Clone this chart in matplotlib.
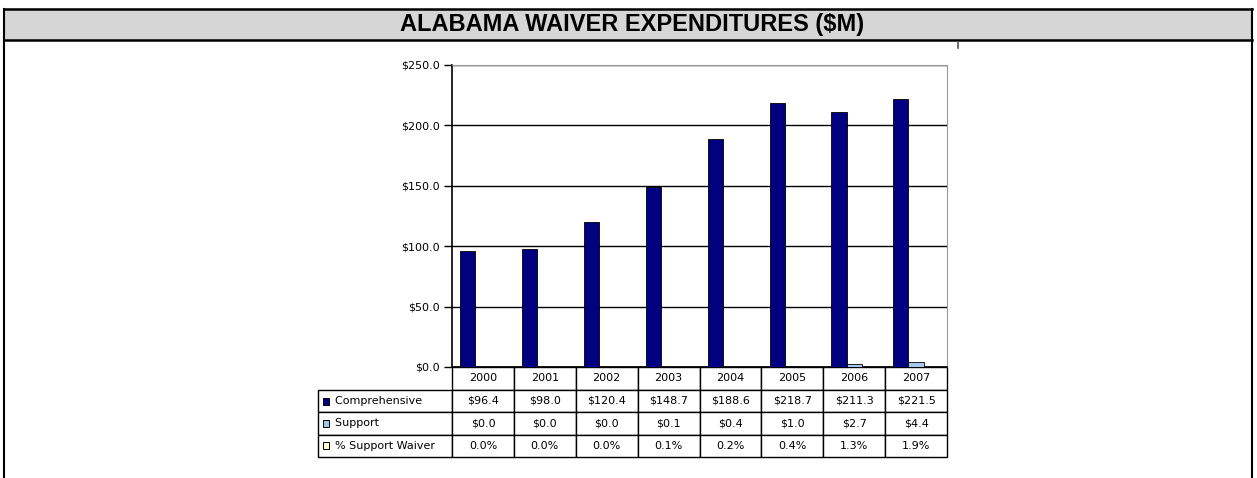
import matplotlib
matplotlib.use("Agg")
import matplotlib.pyplot as plt
from matplotlib.patches import Rectangle
from matplotlib.lines import Line2D
import numpy as np

plt.rcParams['font.family'] = ['DejaVu Sans']

# data
years = ['2000', '2001', '2002', '2003', '2004', '2005', '2006', '2007']
comprehensive = [96.4, 98.0, 120.4, 148.7, 188.6, 218.7, 211.3, 221.5]
support = [0.0, 0.0, 0.0, 0.1, 0.4, 1.0, 2.7, 4.4]
pct_support = [0.0, 0.0, 0.0, 0.1, 0.2, 0.4, 1.3, 1.9]
series_names = ['Comprehensive', 'Support', '% Support Waiver']
series_colors = ['#000080', '#A6C8EC', '#FFFFCC']
yticks = [0, 50, 100, 150, 200, 250]

W, H = 1257, 478
fig = plt.figure(figsize=(W / 100, H / 100), dpi=100)

# outer frame + title band
fig.add_artist(Rectangle((4 / W, 1 - 40 / H), 1248 / W, 31 / H, transform=fig.transFigure,
                         facecolor='#D6D6D6', edgecolor='none'))
for y in (9, 40):
    fig.add_artist(Line2D([4 / W, 1252 / W], [1 - y / H, 1 - y / H], color='black', lw=1.8))
for x in (4, 1252):
    fig.add_artist(Line2D([x / W, x / W], [1 - 9 / H, 0], color='black', lw=1.5))
fig.text(0.503, 1 - 25 / H, 'ALABAMA WAIVER EXPENDITURES ($M)', ha='center', va='center',
         fontsize=17, fontweight='bold', family='Liberation Sans')
fig.add_artist(Line2D([958 / W, 958 / W], [1 - 42 / H, 1 - 48 / H], color='#555555', lw=1.2))

# plot area
left, right, top, bottom = 452, 947, 65, 367
ax = fig.add_axes([left / W, 1 - bottom / H, (right - left) / W, (bottom - top) / H])

x = np.arange(len(years))
bw = 0.245
vals = [comprehensive, support, [p / 100 for p in pct_support]]
for i, (v, c) in enumerate(zip(vals, series_colors)):
    ax.bar(x + (i - 1) * bw, v, width=bw, color=c, edgecolor='black', linewidth=0.6, zorder=3)

ax.set_xlim(-0.5, len(years) - 0.5)
ax.set_ylim(0, 250)
ax.set_yticks(yticks)
ax.set_yticklabels(['$%.1f' % t for t in yticks], fontsize=8)
ax.set_xticks([])
ax.yaxis.grid(True, color='black', lw=1.0, zorder=0)
ax.tick_params(axis='y', length=6, width=1, pad=3)
ax.spines['left'].set_linewidth(1.2)
ax.spines['bottom'].set_linewidth(1.2)
ax.spines['top'].set_color('#999999')
ax.spines['right'].set_color('#999999')

# data table
t_left = (318 - left) / (right - left)
t_bottom = -(457 - bottom) / (bottom - top)
cell_text = [[''] + years,
             ['    ' + series_names[0]] + ['$%.1f' % v for v in comprehensive],
             ['    ' + series_names[1]] + ['$%.1f' % v for v in support],
             ['    ' + series_names[2]] + ['%.1f%%' % v for v in pct_support]]
first_w = (left - 318) / (right - 318)
col_w = [first_w] + [(1 - first_w) / len(years)] * len(years)
tbl = ax.table(cellText=cell_text, colWidths=col_w, cellLoc='center',
               bbox=[t_left, t_bottom, 1 - t_left, -t_bottom])
tbl.auto_set_font_size(False)
tbl.set_fontsize(8)
for (r, c), cell in tbl.get_celld().items():
    cell.set_linewidth(1.0)
    if c == 0:
        cell.get_text().set_ha('left')
        cell.PAD = 0.02
    if r == 0 and c == 0:
        cell.visible_edges = ''

# legend keys inside table row labels
row_centers = [401, 423, 445]
for yc, c in zip(row_centers, series_colors):
    ax.add_patch(Rectangle(((323 - left) / (right - left), (bottom - yc - 3.5) / (bottom - top)),
                           6 / (right - left), 7 / (bottom - top), transform=ax.transAxes,
                           facecolor=c, edgecolor='black', lw=0.7, clip_on=False, zorder=5))

fig.savefig('out.png', dpi=100)
